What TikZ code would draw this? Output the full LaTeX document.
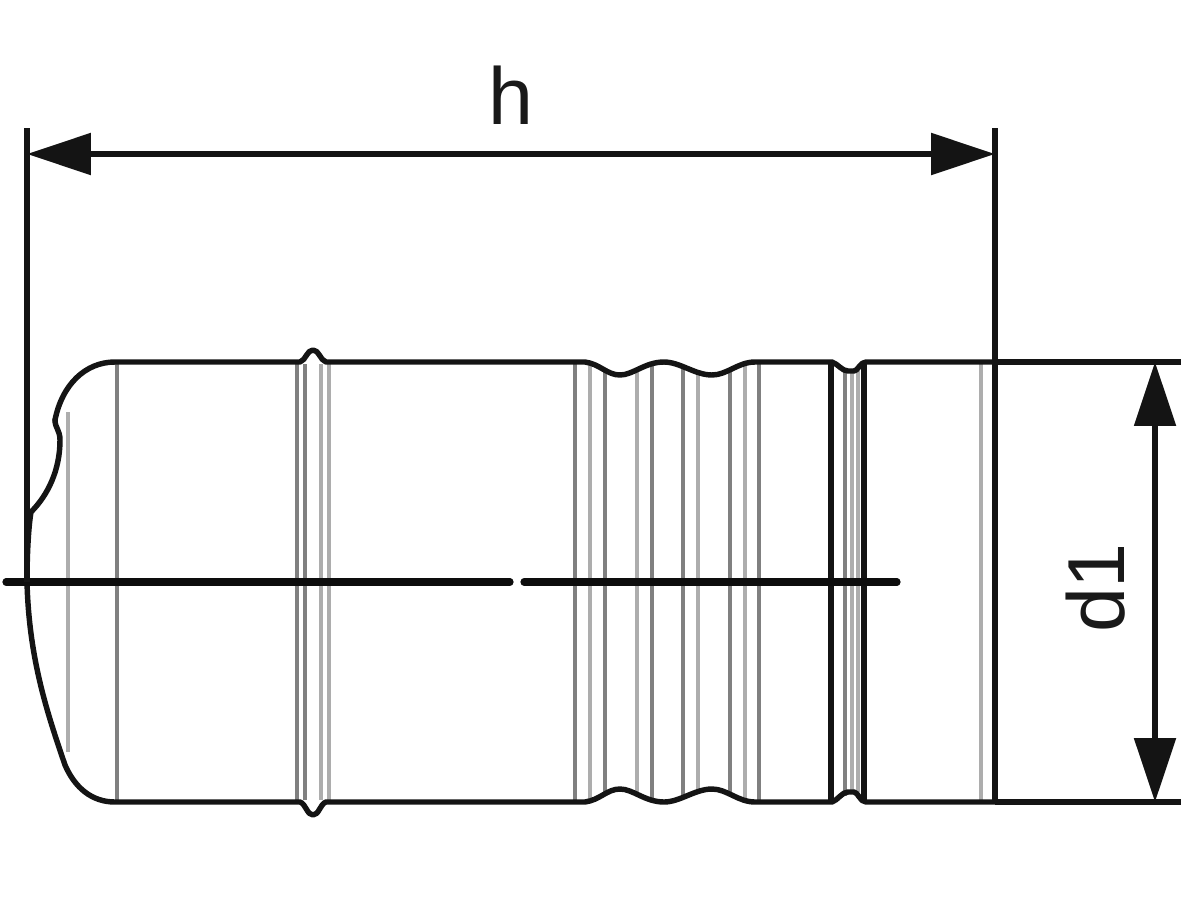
\documentclass[tikz,border=0pt]{standalone}
\usepackage{fontspec}
\setmainfont{Liberation Sans}
\usetikzlibrary{arrows.meta}
\tikzset{
  outline/.style={line width=3.1pt,line join=round,line cap=round,black!92},
  heavy/.style={line width=3.7pt,black!92},
  dimline/.style={line width=3.1pt,black!92},
  extline/.style={line width=2.9pt,black!92},
  centre/.style={line width=4.1pt,black!95,line cap=round},
  fine/.style={line width=1.8pt,black!50},
  pale/.style={line width=2.8pt,black!32},
  dimarrow/.style={dimline,{Triangle[length=1.28cm,width=0.82cm]}-{Triangle[length=1.28cm,width=0.82cm]}},
  dimlabel/.style={font=\fontsize{46}{56}\selectfont,inner sep=0pt,text=black!90}
}
\begin{document}
\begin{tikzpicture}[x=0.02cm,y=-0.02cm]
\useasboundingbox (0,0) rectangle (1200,900);
% grey tangent lines
\foreach \x/\a/\b in {117/364/800,297/364/800,305/364/800,575/364/800,605/370/794,652/364/800,683/366/798,730/370/794,759/364/800,845/368/796}
  \draw[fine] (\x,\a) -- (\x,\b);
\foreach \x/\a/\b in {590/365/799,637/371/793,698/371/793,745/365/799,321/364/800,329/364/800,852/371/792,858/371/792,981/364/800}
  \draw[pale] (\x,\a) -- (\x,\b);
\draw[pale] (68,412) -- (68,752);
% coordinates
\coordinate (extLtop) at (27,128);
\coordinate (extLend) at (27,582);
\coordinate (extRtop) at (995,128);
\coordinate (extRend) at (995,800);
\coordinate (hL) at (27,154);
\coordinate (hR) at (995,154);
\coordinate (dT) at (1155,362);
\coordinate (dB) at (1155,802);
\coordinate (extTend) at (1181,362);
\coordinate (extBend) at (1181,802);
% outline, top
\draw[outline] (55,420) .. controls (62,385) and (85,362) .. (115,362)
  -- (300,362) .. controls (306,360) and (307,350) .. (313,350)
  .. controls (319,350) and (320,360) .. (326,362)
  -- (585,362) .. controls (600,364) and (607,375) .. (620,375)
  .. controls (633,375) and (645,362) .. (664,362)
  .. controls (680,362) and (695,375) .. (712,375)
  .. controls (727,375) and (738,362) .. (755,362)
  -- (832,362) .. controls (838,364) and (842,371) .. (848,371)
  -- (854,371) .. controls (858,371) and (860,362) .. (866,362) -- (995,362);
% outline, bottom
\draw[outline] (27,582) .. controls (29,660) and (48,715) .. (65,765)
  .. controls (75,788) and (92,802) .. (115,802)
  -- (300,802) .. controls (306,804) and (307,815) .. (313,815)
  .. controls (319,815) and (320,804) .. (326,802)
  -- (585,802) .. controls (600,800) and (607,789) .. (620,789)
  .. controls (633,789) and (645,802) .. (664,802)
  .. controls (680,802) and (695,789) .. (712,789)
  .. controls (727,789) and (738,802) .. (755,802)
  -- (832,802) .. controls (838,800) and (842,792) .. (848,792)
  -- (854,792) .. controls (858,792) and (860,802) .. (866,802) -- (995,802);
% break line
\draw[outline] (55,420) .. controls (55,428) and (60,430) .. (60,440)
  .. controls (60,470) and (48,495) .. (31,512)
  .. controls (28,530) and (27,560) .. (27,582);
% heavy collar lines
\draw[heavy] (831,364) -- (831,800);
\draw[heavy] (864,364) -- (864,800);
% centre line
\draw[centre] (6,582) -- (510,582);
\draw[centre] (524,582) -- (897,582);
% extension lines
\draw[extline] (extLtop) -- (extLend);
\draw[extline] (extRtop) -- (extRend);
\draw[extline] (995,362) -- (extTend);
\draw[extline] (995,802) -- (extBend);
% dimensions
\draw[dimarrow] (hL) -- (hR);
\draw[dimarrow] (dT) -- (dB);
\node[dimlabel] (hlabel) at (511,95) {h};
\node[dimlabel,rotate=90] (d1label) at (1096,588) {d1};
\end{tikzpicture}
\end{document}
